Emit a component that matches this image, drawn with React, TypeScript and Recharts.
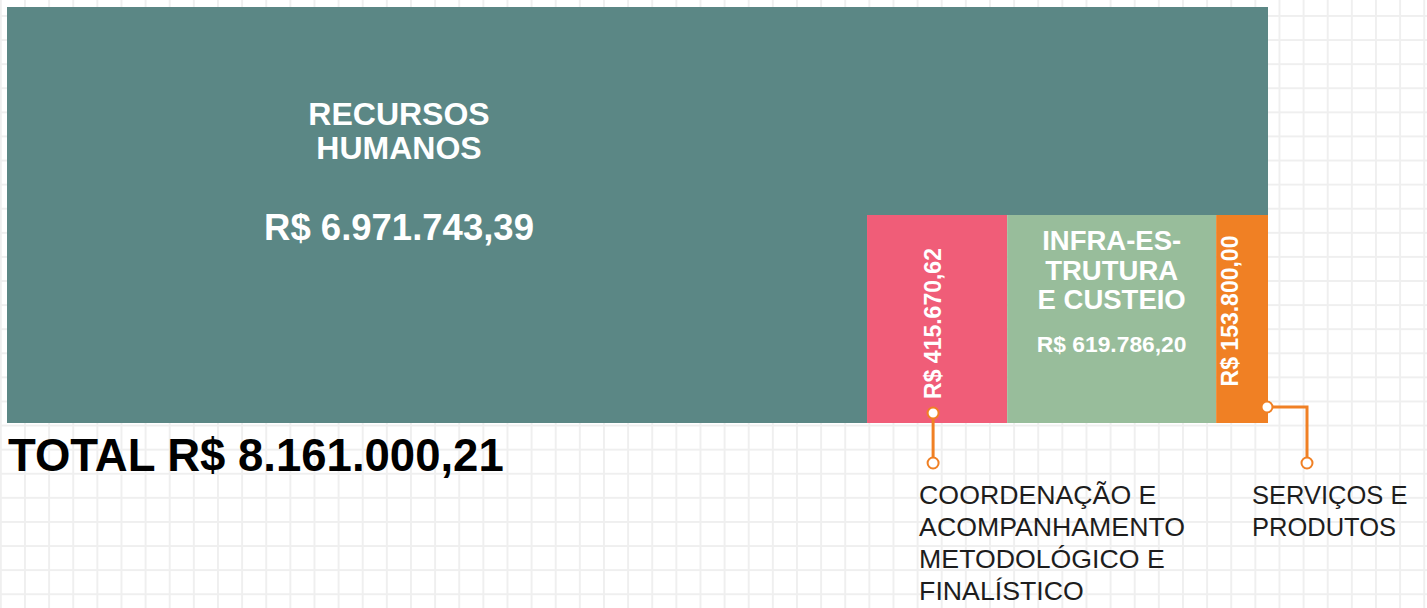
import { BarChart, Bar, XAxis, YAxis } from "recharts";

// budget lines (R$)
const categories = [
  "RECURSOS HUMANOS",
  "COORDENAÇÃO E ACOMPANHAMENTO METODOLÓGICO E FINALÍSTICO",
  "INFRA-ESTRUTURA E CUSTEIO",
  "SERVIÇOS E PRODUTOS",
];
const values = [6971743.39, 415670.62, 619786.2, 153800.0];

const rhTitle = ["RECURSOS", "HUMANOS"];
const coordTitle = ["COORDENAÇÃO E", "ACOMPANHAMENTO", "METODOLÓGICO E", "FINALÍSTICO"];
const infraTitle = ["INFRA-ES-", "TRUTURA", "E CUSTEIO"];
const servTitle = ["SERVIÇOS E", "PRODUTOS"];

// each row of the block is this wide on the value axis
const AXIS_MAX = 3740000;

const TEAL = "#5b8785";
const PINK = "#f05d78";
const GREEN = "#98bd9b";
const ORANGE = "#f08024";
const FONT = "'Liberation Sans', Arial, Helvetica, sans-serif";

const fmt = (v: number) => {
  const [i, d] = v.toFixed(2).split(".");
  return "R$ " + i.replace(/\B(?=(\d{3})+(?!\d))/g, ".") + "," + d;
};

const total = values.reduce((a, b) => a + b, 0);
const small = values[1] + values[2] + values[3];

const rows = [
  { row: "top", rh: AXIS_MAX },
  { row: "bottom", rh: AXIS_MAX - small, coord: values[1], infra: values[2], serv: values[3] },
];

function TealShape(p: any) {
  const { x, y, width, height, payload } = p;
  if (!width || !height) return <g />;
  // labels hang off the lower row so the upper one can't paint over them
  const cx = x + 392;
  return (
    <g>
      <rect x={x} y={y} width={width} height={height} fill={TEAL} />
      {payload.row === "bottom" && (
        <g>
          <g fill="#fff" fontFamily={FONT} fontWeight="bold" textAnchor="middle">
            <text x={cx} y={y - 90} fontSize={32}>{rhTitle[0]}</text>
            <text x={cx} y={y - 56} fontSize={32}>{rhTitle[1]}</text>
            <text x={cx} y={y + 25} fontSize={36.5}>{fmt(values[0])}</text>
          </g>
          <text x={x + 1} y={y + height + 48} fontFamily={FONT} fontWeight="bold" fontSize={45.5} fill="#000">
            {"TOTAL " + fmt(total)}
          </text>
        </g>
      )}
    </g>
  );
}

function CoordShape(p: any) {
  const { x, y, width, height } = p;
  if (!width || !height) return <g />;
  const cx = x + width / 2 - 4;
  const cy = y + 108.5;
  const bottom = y + height;
  return (
    <g>
      <rect x={x} y={y} width={width} height={height} fill={PINK} />
      <text
        x={cx}
        y={cy}
        transform={`rotate(-90 ${cx} ${cy})`}
        textAnchor="middle"
        dominantBaseline="central"
        fill="#fff"
        fontFamily={FONT}
        fontWeight="bold"
        fontSize={23}
      >
        {fmt(values[1])}
      </text>
      <line x1={cx} y1={bottom - 10} x2={cx} y2={bottom + 40} stroke={ORANGE} strokeWidth={3} />
      <circle cx={cx} cy={bottom - 10} r={5.5} fill="#fff" stroke={ORANGE} strokeWidth={2} />
      <circle cx={cx} cy={bottom + 40} r={5.5} fill="#fff" stroke={ORANGE} strokeWidth={2} />
      <g fontFamily={FONT} fontSize={26.7} fill="#1d1d1d">
        {coordTitle.map((t, i) => (
          <text key={t} x={cx - 14} y={bottom + 80.5 + i * 32.2}>{t}</text>
        ))}
      </g>
    </g>
  );
}

function InfraShape(p: any) {
  const { x, y, width, height } = p;
  if (!width || !height) return <g />;
  const cx = x + width / 2;
  return (
    <g>
      <rect x={x} y={y} width={width} height={height} fill={GREEN} />
      <g fill="#fff" fontFamily={FONT} fontWeight="bold" textAnchor="middle">
        {infraTitle.map((t, i) => (
          <text key={t} x={cx} y={y + 35 + i * 29.5} fontSize={27.5}>{t}</text>
        ))}
        <text x={cx} y={y + 137} fontSize={22.8}>{fmt(values[2])}</text>
      </g>
    </g>
  );
}

function ServShape(p: any) {
  const { x, y, width, height } = p;
  if (!width || !height) return <g />;
  const right = x + width;
  const tx = right - 38;
  const ty = y + 96;
  const bottom = y + height;
  const dotY = bottom - 16;
  return (
    <g>
      <rect x={x} y={y} width={width} height={height} fill={ORANGE} />
      <text
        x={tx}
        y={ty}
        transform={`rotate(-90 ${tx} ${ty})`}
        textAnchor="middle"
        dominantBaseline="central"
        fill="#fff"
        fontFamily={FONT}
        fontWeight="bold"
        fontSize={23}
      >
        {fmt(values[3])}
      </text>
      <polyline
        points={`${right - 1},${dotY} ${right + 39},${dotY} ${right + 39},${bottom + 40}`}
        fill="none"
        stroke={ORANGE}
        strokeWidth={3}
      />
      <circle cx={right - 1} cy={dotY} r={5.5} fill="#fff" stroke={ORANGE} strokeWidth={2} />
      <circle cx={right + 39} cy={bottom + 40} r={5.5} fill="#fff" stroke={ORANGE} strokeWidth={2} />
      <g fontFamily={FONT} fontSize={25.5} fill="#1d1d1d">
        {servTitle.map((t, i) => (
          <text key={t} x={right - 16} y={bottom + 80.5 + i * 32.2}>{t}</text>
        ))}
      </g>
    </g>
  );
}

export default function App() {
  return (
    <div
      style={{
        position: "absolute",
        left: 0,
        top: 0,
        width: 1427,
        height: 608,
        overflow: "hidden",
        background: "#fff",
        backgroundImage:
          "linear-gradient(to right, #efefef 2px, transparent 2px), linear-gradient(to bottom, #efefef 2px, transparent 2px)",
        backgroundSize: "24.14px 24.1px",
        backgroundPosition: "24px 15px",
      }}
      title={categories.join(" | ")}
    >
      <BarChart
        width={1427}
        height={608}
        data={rows}
        layout="vertical"
        barCategoryGap={0}
        margin={{ top: 7, left: 7, right: 159, bottom: 185 }}
      >
        <XAxis type="number" domain={[0, AXIS_MAX]} hide />
        <YAxis type="category" dataKey="row" hide />
        <Bar dataKey="rh" stackId="a" fill={TEAL} shape={TealShape} isAnimationActive={false} />
        <Bar dataKey="coord" stackId="a" fill={PINK} shape={CoordShape} isAnimationActive={false} />
        <Bar dataKey="infra" stackId="a" fill={GREEN} shape={InfraShape} isAnimationActive={false} />
        <Bar dataKey="serv" stackId="a" fill={ORANGE} shape={ServShape} isAnimationActive={false} />
      </BarChart>
    </div>
  );
}
